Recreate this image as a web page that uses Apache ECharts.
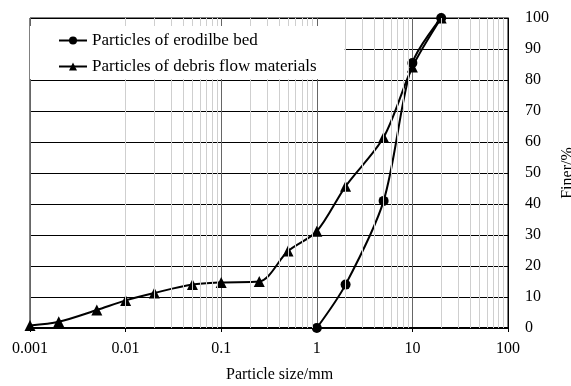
<!DOCTYPE html>
<html>
<head>
<meta charset="utf-8">
<script src="https://cdn.jsdelivr.net/npm/echarts@6/dist/echarts.min.js"></script>
<style>
  html, body { margin: 0; padding: 0; background: #fff; }
  #chart { width: 571px; height: 386px; }
</style>
</head>
<body>
<div id="chart"></div>
<script>
  // particle size (mm) and percent finer
  const bedSize = [1, 2, 5, 10, 20];
  const bedFiner = [0, 14, 41, 85.5, 100];
  const debrisSize = [0.001, 0.002, 0.005, 0.01, 0.02, 0.05, 0.1, 0.25, 0.5, 1, 2, 5, 10, 20];
  const debrisFiner = [0.8, 2, 5.8, 8.9, 11.3, 14, 14.7, 15, 24.8, 31.2, 45.7, 61.5, 84.2, 100];
  const minorTicks = [];
  [0.001, 0.01, 0.1, 1, 10].forEach(function (d) {
    for (let k = 2; k <= 9; k++) minorTicks.push(+(d * k).toPrecision(2));
  });

  const font = 'Liberation Serif';
  const chart = echarts.init(document.getElementById('chart'));
  const option = {
    animation: false,
    textStyle: { fontFamily: font, color: '#000' },
    title: {
      text: 'Particle size/mm',
      left: 226,
      top: 367,
      padding: 0,
      textStyle: { fontFamily: font, fontSize: 16, fontWeight: 'normal', color: '#000' }
    },
    legend: {
      data: ['Particles of erodilbe bed', 'Particles of debris flow materials'],
      orient: 'vertical',
      left: 30,
      top: 26,
      z: 10,
      padding: [6, 28, 4, 28],
      itemGap: 9,
      itemWidth: 28,
      itemHeight: 10,
      backgroundColor: '#fff',
      textStyle: { fontFamily: font, fontSize: 17, color: '#000' }
    },
    grid: {
      left: 30,
      right: 63,
      top: 18,
      bottom: 58,
      outerBoundsMode: 'none',
      show: true,
      borderColor: '#000',
      borderWidth: 1
    },
    xAxis: {
      type: 'log',
      logBase: 10,
      min: 0.001,
      max: 100,
      axisLine: { lineStyle: { color: '#000', width: 2 } },
      axisTick: { show: true, length: 4, lineStyle: { color: '#000' } },
      axisLabel: {
        fontFamily: font,
        fontSize: 16,
        color: '#000',
        margin: 13,
        formatter: function (v) { return String(+(+v).toPrecision(1)); }
      },
      splitLine: { show: true, lineStyle: { color: '#666', width: 1 } }
    },
    yAxis: {
      type: 'value',
      position: 'right',
      min: 0,
      max: 100,
      interval: 10,
      name: 'Finer/%',
      nameLocation: 'middle',
      nameRotate: 90,
      nameGap: 50,
      nameTextStyle: { fontFamily: font, fontSize: 16, color: '#000' },
      axisLine: { show: true, lineStyle: { color: '#000' } },
      axisTick: { show: false },
      axisLabel: { fontFamily: font, fontSize: 16, color: '#000', margin: 17 },
      splitLine: { show: true, lineStyle: { color: '#000', width: 1 } }
    },
    series: [
      {
        name: 'minor',
        type: 'line',
        data: [],
        z: 1,
        silent: true,
        markLine: {
          silent: true,
          symbol: ['none', 'none'],
          label: { show: false },
          lineStyle: { type: 'solid', color: '#cfcfcf', width: 1 },
          data: minorTicks.map(function (v) { return { xAxis: v }; })
        }
      },
      {
        name: 'Particles of erodilbe bed',
        type: 'line',
        smooth: 0.3,
        symbol: 'circle',
        symbolSize: 10,
        z: 3,
        itemStyle: { color: '#000' },
        lineStyle: { color: '#000', width: 2 },
        data: bedSize.map(function (s, i) { return [s, bedFiner[i]]; })
      },
      {
        name: 'Particles of debris flow materials',
        type: 'line',
        smooth: 0.3,
        symbol: 'triangle',
        symbolSize: 11,
        z: 3,
        itemStyle: { color: '#000' },
        lineStyle: { color: '#000', width: 2 },
        data: debrisSize.map(function (s, i) { return [s, debrisFiner[i]]; })
      }
    ]
  };
  chart.setOption(option);
</script>
</body>
</html>
